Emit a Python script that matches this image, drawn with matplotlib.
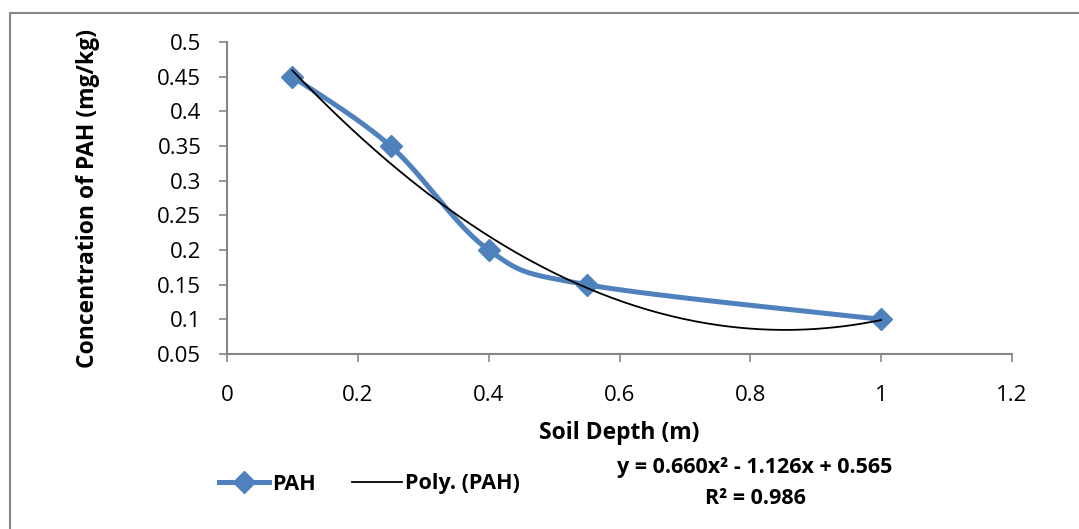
import numpy as np
import matplotlib.pyplot as plt
from matplotlib.lines import Line2D
from matplotlib.patches import Rectangle

depth_m = [0.1, 0.25, 0.4, 0.55, 1.0]
pah_mg_kg = [0.45, 0.35, 0.2, 0.15, 0.1]
poly_coef = [0.660, -1.126, 0.565]
r_squared = 0.986

x_ticks = [0, 0.2, 0.4, 0.6, 0.8, 1, 1.2]
x_tick_labels = ["0", "0.2", "0.4", "0.6", "0.8", "1", "1.2"]
y_ticks = [0.05, 0.1, 0.15, 0.2, 0.25, 0.3, 0.35, 0.4, 0.45, 0.5]
y_tick_labels = ["0.05", "0.1", "0.15", "0.2", "0.25", "0.3", "0.35", "0.4", "0.45", "0.5"]

BLUE = "#4F81BD"
AXIS_GREY = "#868686"

plt.rcParams["font.family"] = ["Open Sans", "DejaVu Sans"]


def smooth_curve(xs, ys, steps=40):
    # Catmull-Rom style bezier segments, same idea as spreadsheet "smoothed line"
    pts = np.column_stack([xs, ys]).astype(float)
    padded = np.vstack([pts[0], pts, pts[-1]])
    t = np.linspace(0, 1, steps)[:, None]
    out = []
    for i in range(len(pts) - 1):
        p0, p1, p2, p3 = padded[i], padded[i + 1], padded[i + 2], padded[i + 3]
        c1 = p1 + (p2 - p0) / 6.0
        c2 = p2 - (p3 - p1) / 6.0
        seg = ((1 - t) ** 3) * p1 + 3 * ((1 - t) ** 2) * t * c1 \
            + 3 * (1 - t) * t ** 2 * c2 + t ** 3 * p2
        out.append(seg if i == 0 else seg[1:])
    curve = np.vstack(out)
    return curve[:, 0], curve[:, 1]


fig = plt.figure(figsize=(10.79, 5.29), dpi=100)
fig.patches.append(Rectangle((9.5 / 1079, -0.1), 1.2, 1.1 - 13.5 / 529,
                             transform=fig.transFigure, fill=False,
                             edgecolor=AXIS_GREY, linewidth=1.5))

ax = fig.add_axes([227 / 1079, 1 - 354 / 529, (1012 - 227) / 1079, (354 - 42) / 529])

sx, sy = smooth_curve(depth_m, pah_mg_kg)
ax.plot(sx, sy, color=BLUE, linewidth=3.6, solid_capstyle="round", zorder=2)
ax.plot(depth_m, pah_mg_kg, linestyle="none", marker="D", markersize=11.5,
        color=BLUE, zorder=3)

fit_x = np.linspace(depth_m[0], depth_m[-1], 200)
fit_y = np.polyval(poly_coef, fit_x)
ax.plot(fit_x, fit_y, color="black", linewidth=1.3, zorder=4)

ax.set_xlim(0, 1.2)
ax.set_ylim(0.05, 0.5)
ax.set_xticks(x_ticks)
ax.set_xticklabels(x_tick_labels)
ax.set_yticks(y_ticks)
ax.set_yticklabels(y_tick_labels)

for side in ("top", "right"):
    ax.spines[side].set_visible(False)
for side in ("left", "bottom"):
    ax.spines[side].set_color(AXIS_GREY)
    ax.spines[side].set_linewidth(1.5)
ax.tick_params(axis="both", direction="out", length=5.5, width=1.2,
               color=AXIS_GREY, labelsize=16, labelcolor="black")
ax.tick_params(axis="x", pad=17)
ax.tick_params(axis="y", pad=13)

ax.set_xlabel("Soil Depth (m)", fontsize=16.5, fontweight="bold")
ax.set_ylabel("Concentration of PAH (mg/kg)", fontsize=16.5, fontweight="bold")
ax.xaxis.set_label_coords(0.5, -0.215)
ax.yaxis.set_label_coords(-0.162, 0.5)

handles = [
    Line2D([], [], color=BLUE, linewidth=3.6, marker="D", markersize=11.5),
    Line2D([], [], color="black", linewidth=1.3),
]
fig.legend(handles, ["PAH", "Poly. (PAH)"], loc="center left",
           bbox_to_anchor=(200 / 1079, 1 - 484 / 529), ncol=2, frameon=False,
           prop={"size": 15.5, "weight": "bold"}, handlelength=2.3,
           handletextpad=0.15, columnspacing=1.7)

eq = f"y = {poly_coef[0]:.3f}x² - {abs(poly_coef[1]):.3f}x + {poly_coef[2]:.3f}"
fig.text(755 / 1079, 1 - 467 / 529, eq, ha="center", va="center",
         fontsize=15.5, fontweight="bold")
fig.text(755 / 1079, 1 - 498 / 529, f"R² = {r_squared:.3f}", ha="center",
         va="center", fontsize=15.5, fontweight="bold")

fig.savefig("out.png", dpi=100)
